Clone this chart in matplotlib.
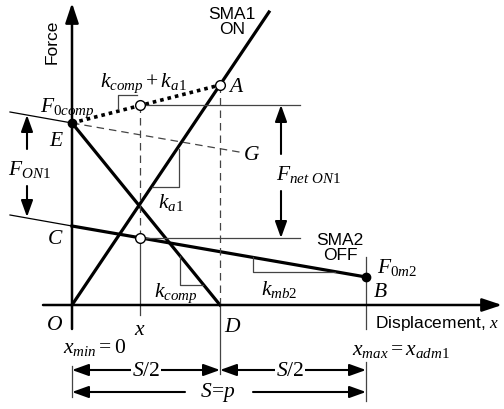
import matplotlib
matplotlib.use("Agg")
import matplotlib.pyplot as plt

plt.rcParams["mathtext.fontset"] = "custom"
plt.rcParams["mathtext.rm"] = "Liberation Serif"
plt.rcParams["mathtext.it"] = "Liberation Serif:italic"
plt.rcParams["font.family"] = "Liberation Sans"

# schematic values (displacement, force) in drawing units, origin at O
stroke = 294          # S = p, x_max
half = 148            # S/2, point D
x_pt = 68             # the general position x
F0comp = 182          # E
F_A = 220             # A, SMA1 force at S/2
F_C = 79              # C, SMA2 force at x = 0
F0m2 = 28             # B, SMA2 force at x_max
sma1_top = [197, 293]
g_end = [170, 152.5]
ext_left = -62
F_E_ext = 193
F_C_ext = 90
F_dot_x = 200         # dotted line at x
F_sma2_x = 67         # SMA2 line at x

thick = 2.3
thin = 0.9
gray = "#444444"
serif = 15.5
sans = 12.5

fig = plt.figure(figsize=(5.04, 4.1), dpi=100)
ax = fig.add_axes([0, 0, 1, 1])
ax.set_xlim(-72, 432)
ax.set_ylim(-104, 306)
ax.axis("off")


def arrow(x0, y0, x1, y1, style="-|>", lw=1.5, hl=0.6, hw=0.2, ms=20):
    ax.annotate(
        "",
        xy=(x1, y1),
        xytext=(x0, y0),
        arrowprops=dict(
            arrowstyle=f"{style},head_length={hl},head_width={hw}",
            lw=lw,
            color="k",
            shrinkA=0,
            shrinkB=0,
            mutation_scale=ms,
        ),
    )


# axes
arrow(0, -24, 0, 302, lw=1.8)
arrow(-29, 0, 430, 0, lw=1.8)

# main characteristic lines
ax.plot([0, sma1_top[0]], [0, sma1_top[1]], color="k", lw=thick)
ax.plot([0, half], [F0comp, 0], color="k", lw=thick)
ax.plot([0, stroke], [F_C, F0m2], color="k", lw=thick)
ax.plot([ext_left, 0], [F_C_ext, F_C], color="k", lw=thin)
ax.plot([ext_left, 0], [F_E_ext, F0comp], color="k", lw=thin)
ax.plot([0, g_end[0]], [F0comp, g_end[1]], color=gray, lw=thin,
        linestyle=(0, (6, 4)))
ax.plot([0, half], [F0comp, F_A], color="k", lw=2.6,
        linestyle=(0, (1, 1.1)))

# guide lines
ax.plot([x_pt, x_pt], [F_dot_x, F_sma2_x], color=gray, lw=thin,
        linestyle=(0, (6, 4)))
ax.plot([x_pt, x_pt], [F_sma2_x, -10], color=gray, lw=thin)
ax.plot([half, half], [F_A, 0], color=gray, lw=thin, linestyle=(0, (6, 4)))
ax.plot([half, half], [0, -69], color=gray, lw=thin)
ax.plot([x_pt, 228], [F_dot_x, F_dot_x], color=gray, lw=thin)
ax.plot([x_pt, 228], [F_sma2_x, F_sma2_x], color=gray, lw=thin)
ax.plot([stroke, stroke], [48, -24], color=gray, lw=thin)
ax.plot([stroke, stroke], [-57, -96], color=gray, lw=thin)
ax.plot([0, 0], [-61, -92], color=gray, lw=thin)

# slope triangles
ax.plot([46, 46, 65], [196, 210, 210], color=gray, lw=thin)
ax.plot([80, 107, 107], [118, 118, 156], color=gray, lw=thin)
ax.plot([108, 108, 131], [49, 20, 20], color=gray, lw=thin)
ax.plot([181, 181, 263], [48, 33, 33], color=gray, lw=thin)

# points
ax.plot([0, stroke], [F0comp, F0m2], "o", color="k", ms=6, zorder=5)
ax.plot([x_pt, x_pt, half], [F_dot_x, F_sma2_x, F_A], "o", mfc="white",
        mec="k", mew=1.0, ms=7, zorder=5)

# force arrows
arrow(-45, 156, -45, 190, hl=0.5, hw=0.18)
arrow(-45, 119, -45, 88, hl=0.5, hw=0.18)
arrow(209, 151, 209, 200, hl=0.5, hw=0.18)
arrow(209, 114, 209, 67, hl=0.5, hw=0.18)

# dimension arrows
arrow(0, -65, half, -65, style="<|-|>", hl=0.5, hw=0.18)
arrow(half, -65, stroke, -65, style="<|-|>", hl=0.5, hw=0.18)
arrow(113, -87, 0, -87, hl=0.5, hw=0.18)
arrow(181, -87, stroke, -87, hl=0.5, hw=0.18)

box = dict(facecolor="white", edgecolor="none", pad=1)
ax.text(74, -65, r"$S/2$", fontsize=serif, ha="center", va="center", bbox=box)
ax.text(218, -65, r"$S/2$", fontsize=serif, ha="center", va="center", bbox=box)
ax.text(146, -87, r"$S\!=\!p$", fontsize=serif, ha="center", va="center")

# labels
ax.text(-20, 264, "Force", fontsize=sans, rotation=90, ha="center", va="center")
ax.text(160, 284, "SMA1\nON", fontsize=sans, ha="center", va="center",
        linespacing=1.0)
ax.text(268, 58, "SMA2\nOFF", fontsize=sans, ha="center", va="center",
        linespacing=1.0)
ax.text(303, -18, r"Displacement, $x$", fontsize=sans, ha="left", va="center")

ax.text(164, 220, r"$A$", fontsize=serif, ha="center", va="center")
ax.text(-32, 194, r"$F_{\mathit{0comp}}$", fontsize=serif, ha="left",
        va="baseline")
ax.text(-15, 165, r"$E$", fontsize=serif, ha="center", va="center")
ax.text(180, 151, r"$G$", fontsize=serif, ha="center", va="center")
ax.text(-43, 131, r"$F_{\mathit{ON1}}$", fontsize=serif, ha="center",
        va="baseline")
ax.text(-17, 67, r"$C$", fontsize=serif, ha="center", va="center")
ax.text(71, 219, r"$k_{comp} + k_{a\mathit{1}}$", fontsize=serif,
        ha="center", va="baseline")
ax.text(99, 98, r"$k_{a\mathit{1}}$", fontsize=serif, ha="center",
        va="baseline")
ax.text(204, 126, r"$F_{net\ \mathit{ON1}}$", fontsize=serif, ha="left",
        va="baseline")
ax.text(68, -29, r"$x$", fontsize=serif, ha="center", va="baseline")
ax.text(104, 9, r"$k_{comp}$", fontsize=serif, ha="center", va="baseline")
ax.text(207, 11, r"$k_{mb\mathit{2}}$", fontsize=serif, ha="center",
        va="baseline")
ax.text(305, 33, r"$F_{\mathit{0m2}}$", fontsize=serif, ha="left",
        va="baseline")
ax.text(308, 14, r"$B$", fontsize=serif, ha="center", va="center")
ax.text(-17, -19, r"$O$", fontsize=serif, ha="center", va="center")
ax.text(161, -21, r"$D$", fontsize=serif, ha="center", va="center")
ax.text(23, -47, r"$x_{min} = 0$", fontsize=serif, ha="center", va="baseline")
ax.text(329, -49, r"$x_{max} = x_{adm1}$", fontsize=serif, ha="center",
        va="baseline")

fig.savefig("out.png", dpi=100)
